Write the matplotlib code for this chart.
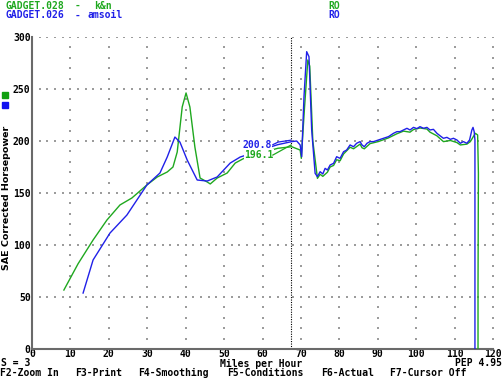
import matplotlib
matplotlib.use('Agg')
import matplotlib.pyplot as plt
import numpy as np

GREEN = '#1fa81f'
BLUE = '#2020e8'
GRAY = '#9c9c9c'

# k&n run (green)
kn_mph = [8.3, 12.0, 15.9, 19.5, 22.9, 26.0, 29.9, 32.6, 35.2, 36.7, 37.8, 39.1, 40.1,
          41.1, 42.4, 43.75, 45.6, 46.4, 48.2, 50.8, 52.9, 55.0, 58.0, 61.0, 64.0, 67.6,
          69.8, 70.1, 70.9, 71.8, 72.3, 73.1, 74.3, 75.0, 75.7, 76.9, 77.6, 78.5, 79.3,
          80.2, 81.1, 82.8, 83.7, 85.4, 85.9, 86.5, 88.0, 90.2, 92.8, 95.0, 96.7, 98.4,
          99.3, 101.0, 102.8, 103.6, 105.4, 107.1, 108.9, 110.6, 111.5, 113.2, 114.1,
          115.4, 116.0, 116.2, 116.1, 116.1]
kn_hp = [56.7, 82.0, 104.8, 124.0, 138.5, 145.2, 157.7, 165.4, 170.2, 175.0, 189.4, 232.7, 246.2,
         232.7, 194.2, 164.4, 160.6, 158.7, 164.4, 169.2, 178.8, 183.0, 187.0, 190.0, 193.0, 194.5,
         191.3, 183.3, 230.0, 277.9, 272.0, 200.0, 164.1, 168.0, 166.0, 170.0, 175.0, 176.5, 182.0,
         181.0, 187.5, 194.0, 192.5, 197.0, 193.5, 192.5, 197.5, 199.5, 203.0, 207.0, 209.5, 208.5,
         211.0, 212.5, 211.5, 208.5, 205.0, 199.4, 200.5, 198.5, 196.2, 197.0, 199.4,
         207.4, 205.8, 168.9, 60.0, 0.0]

# amsoil run (blue)
am_mph = [13.3, 15.9, 20.3, 24.7, 29.9, 33.3, 35.2, 37.2, 38.5, 40.4, 43.0, 45.6, 48.2,
          51.6, 54.2, 58.0, 61.0, 64.0, 67.6, 68.9, 69.8, 70.2, 70.8, 71.5, 72.1, 72.8,
          73.7, 74.3, 75.0, 75.7, 76.3, 76.9, 77.6, 78.5, 79.3, 80.2, 81.1, 81.9, 82.8,
          83.7, 84.5, 85.4, 85.9, 86.5, 87.2, 88.0, 88.9, 90.2, 91.5, 92.8, 94.1, 95.0,
          95.8, 96.7, 97.6, 98.4, 99.3, 100.2, 101.0, 101.9, 102.8, 103.6, 104.5, 105.4,
          106.3, 107.1, 108.0, 108.9, 109.7, 110.6, 111.5, 112.3, 113.2, 113.9, 114.5,
          114.8, 115.1, 115.3, 115.3]
am_hp = [53.8, 85.6, 111.5, 128.8, 157.7, 169.2, 184.6, 203.8, 199.0, 181.7, 162.5, 161.5, 165.4,
         178.8, 184.6, 189.0, 193.0, 196.5, 199.4, 200.0, 196.2, 184.9, 242.6, 285.9, 281.1, 210.6,
         168.9, 165.7, 170.5, 168.3, 173.7, 172.1, 176.9, 178.5, 184.9, 183.3, 189.7, 191.3, 196.2,
         194.5, 197.8, 199.4, 196.2, 194.5, 197.8, 199.4, 199.4, 201.0, 202.6, 204.2, 207.4, 209.0,
         209.0, 210.6, 212.2, 210.6, 213.1, 211.9, 213.8, 212.2, 213.1, 210.6, 211.2, 207.4,
         204.8, 202.6, 203.5, 201.6, 202.6, 201.0, 197.8, 199.4, 197.8, 201.0, 210.6,
         213.1, 209.0, 201.0, 0.0]

cursor_mph = 67.4
cursor_vals = {'amsoil': 200.8, 'k&n': 196.1}

x_ticks = list(range(0, 121, 10))
y_ticks = list(range(0, 301, 50))

plt.rcParams['font.family'] = 'DejaVu Sans Mono'
plt.rcParams['font.weight'] = 'bold'
fs = 7

fig = plt.figure(figsize=(5.04, 3.78), dpi=100)
ax = fig.add_axes([32/504, 1 - 349/378, 461/504, 312/378])
ax.set_xlim(0, 120)
ax.set_ylim(0, 300)

# dotted grid
for yv in y_ticks[1:]:
    xs = np.arange(2, 121, 2)
    ax.scatter(xs, np.full(len(xs), yv), s=0.8, color=GRAY, marker='s', lw=0, zorder=1)
for xv in x_ticks[1:]:
    ys = np.arange(10, 301, 10)
    ax.scatter(np.full(len(ys), xv), ys, s=0.8, color=GRAY, marker='s', lw=0, zorder=1)

ax.plot(kn_mph, kn_hp, color=GREEN, lw=1.0, zorder=3)
ax.plot(am_mph, am_hp, color=BLUE, lw=1.0, zorder=4)

ax.axvline(cursor_mph, color='black', lw=0.8, linestyle=(0, (1, 1.2)), zorder=2)

# cursor readouts
ax.text(58.6, 196, '%.1f' % cursor_vals['amsoil'], color=BLUE, fontsize=fs, ha='center', va='center',
        bbox=dict(facecolor='white', edgecolor='none', pad=0.5), zorder=5)
ax.text(59.1, 186.5, '%.1f' % cursor_vals['k&n'], color=GREEN, fontsize=fs, ha='center', va='center',
        bbox=dict(facecolor='white', edgecolor='none', pad=0.5), zorder=5)
ax.plot([62.7, 64.1, cursor_mph], [196.5, 199.0, cursor_vals['amsoil']], color=BLUE, lw=0.9, zorder=5)
ax.plot([62.7, cursor_mph], [186.5, cursor_vals['k&n']], color=GREEN, lw=0.9, zorder=5)

for s in ['top', 'right']:
    ax.spines[s].set_visible(False)
for s in ['left', 'bottom']:
    ax.spines[s].set_color('#6a6a6a')
    ax.spines[s].set_linewidth(1.5)
ax.set_xticks(x_ticks)
ax.set_yticks(y_ticks)
ax.tick_params(length=0, labelsize=fs, pad=1)
ax.tick_params(axis='x', pad=0)
ax.set_xticklabels([str(v) for v in x_ticks])
ax.set_yticklabels([str(v) for v in y_ticks])

# header and footer text in figure pixels
def ftext(x, y, s, color='black', ha='left', **kw):
    fig.text(x/504, 1 - y/378, s, color=color, ha=ha, va='center', fontsize=fs, **kw)

ftext(6, 6, 'GADGET.028', GREEN)
ftext(75, 6, '-', GREEN)
ftext(94, 6, 'k&n', GREEN)
ftext(328, 6, 'RO', GREEN)
ftext(6, 15.5, 'GADGET.026', BLUE)
ftext(75, 15.5, '-', BLUE)
ftext(88, 15.5, 'amsoil', BLUE)
ftext(328, 15.5, 'RO', BLUE)

ftext(1, 363.5, 'S = 3')
ftext(261, 363.5, 'Miles per Hour', ha='center')
ftext(502, 363.5, 'PEP 4.95', ha='right')
for xp, s in [(0, 'F2-Zoom In'), (75, 'F3-Print'), (138, 'F4-Smoothing'),
              (227, 'F5-Conditions'), (321, 'F6-Actual'), (390, 'F7-Cursor Off')]:
    ftext(xp, 372.5, s)

fig.text(7/504, 1 - 198/378, 'SAE Corrected Horsepower', rotation=90, ha='center', va='center',
         fontsize=6.8, fontfamily='DejaVu Sans', color='black')

fig.patches.append(plt.Rectangle((2/504, 1 - 98/378), 6/504, 6/378, transform=fig.transFigure,
                                 color='#10a010'))
fig.patches.append(plt.Rectangle((2/504, 1 - 108/378), 6/504, 6/378, transform=fig.transFigure,
                                 color='#1010f0'))

fig.savefig('out.png', dpi=100)
